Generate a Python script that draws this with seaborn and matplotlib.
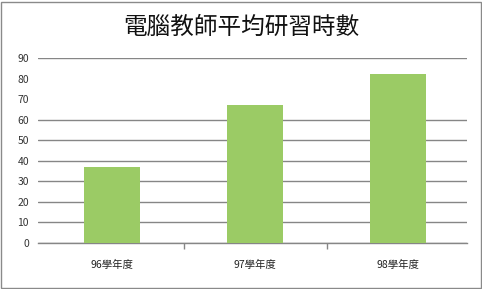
import matplotlib
matplotlib.use("Agg")
import matplotlib.pyplot as plt
import seaborn as sns
import pandas as pd
from matplotlib.patches import Rectangle

categories = ["96學年度", "97學年度", "98學年度"]
values = [37, 67, 82]
yticks = [0, 10, 20, 30, 40, 50, 60, 70, 80, 90]
title = "電腦教師平均研習時數"

sns.set_theme(style="white")
plt.rcParams['font.family'] = ['Noto Sans CJK TC', 'DejaVu Sans']

df = pd.DataFrame({"cat": categories, "val": values})

fig = plt.figure(figsize=(4.82, 2.89), dpi=100)
ax = fig.add_axes([38/482, 46/289, 429/482, 185/289])

sns.barplot(data=df, x="cat", y="val", color="#9BCB65", width=0.39,
            saturation=1, ax=ax, zorder=3, linewidth=0, edgecolor="none")

ax.set_ylim(0, 90)
ax.set_yticks(yticks)
ax.set_xlim(-0.52, 2.48)
ax.set_xlabel("")
ax.set_ylabel("")

grid_c = "#868686"
ax.yaxis.grid(True, color=grid_c, linewidth=1)
for val, gl in zip(yticks, ax.yaxis.get_gridlines()):
    if val in (70, 80):
        gl.set_visible(False)
ax.set_axisbelow(True)

for s in ["left", "right", "top"]:
    ax.spines[s].set_visible(False)
ax.spines["bottom"].set_color(grid_c)
ax.spines["bottom"].set_linewidth(1)

ax.tick_params(axis="y", length=0, pad=6.5, labelsize=7.5, labelcolor="#333333")
ax.tick_params(axis="x", which="major", length=0, pad=12, labelsize=7.5, labelcolor="#222222")
ax.set_xticks([0.5, 1.5], minor=True)
ax.tick_params(axis="x", which="minor", length=4, color=grid_c, width=1, bottom=True)

fig.text(0.5, 1 - 27/289, title, ha="center", va="center", fontsize=17,
         color="#111111", fontweight="light")

fig.patches.append(Rectangle((0.003, 0.004), 0.994, 0.99, transform=fig.transFigure,
                             fill=False, edgecolor="#8a8a8a", linewidth=1))

fig.savefig("out.png", dpi=100)
